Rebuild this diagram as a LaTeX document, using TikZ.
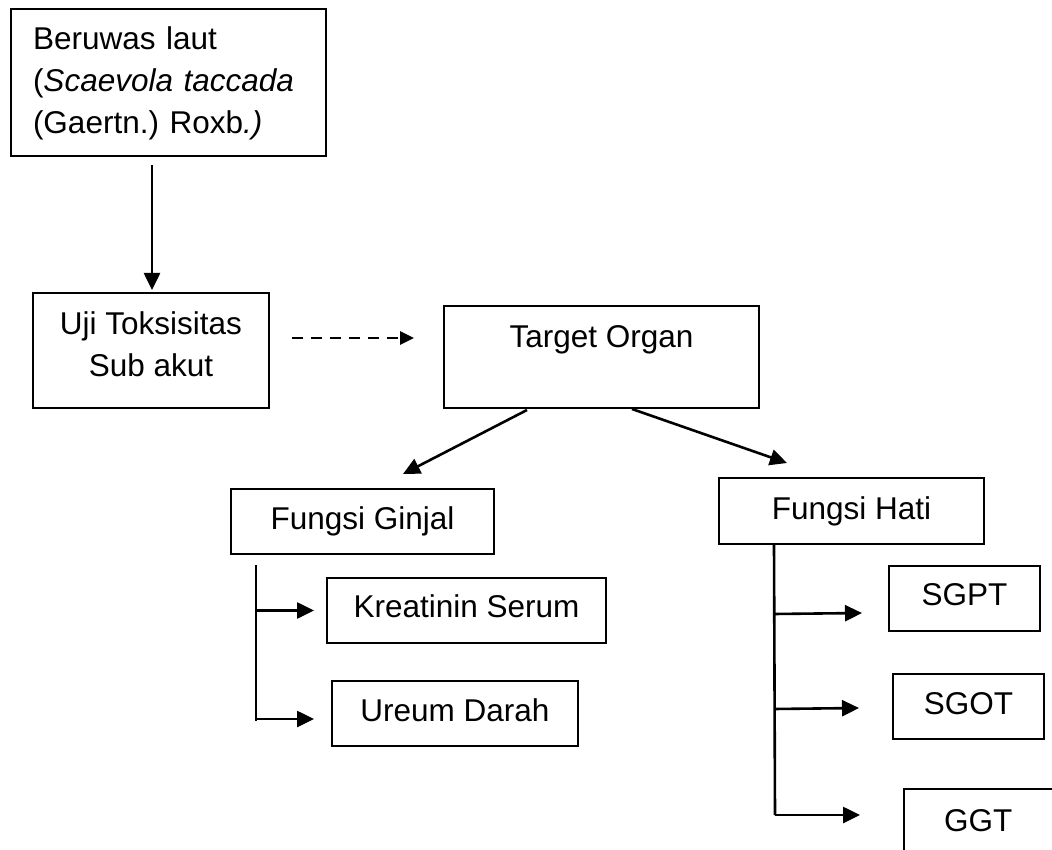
\documentclass[tikz,border=0pt]{standalone}
\usepackage{fontspec}
\setmainfont{Liberation Sans}
\usetikzlibrary{arrows.meta,calc}
\frenchspacing

\tikzset{
  box/.style={draw, line width=2pt, inner sep=0pt, font=\fontsize{31.5}{42}\selectfont},
  arr/.style={line width=2.6pt, -{Triangle[length=17pt,width=16pt]}},
  dasharr/.style={line width=2.6pt, dash pattern=on 11pt off 8pt, -{Triangle[length=14pt,width=13pt]}},
  trunk/.style={line width=2.6pt},
}

\begin{document}
\begin{tikzpicture}[x=1pt,y=-1pt]
		\useasboundingbox (0,0) rectangle (1052,850);
		\clip (0,0) rectangle (1052,850);
		
		\node[box, anchor=north west, align=left, text width=271pt, inner xsep=22pt, text height=41pt, text depth=106pt] (beruwas) at (10,8) {Beruwas laut\\(\textit{Scaevola taccada}\\(Gaertn.) Roxb\textit{.)}};
		\node[box, anchor=north, align=center, minimum width=236pt, text height=83pt, text depth=32pt] (uji) at (151,292) {Uji Toksisitas\\Sub akut};
		\node[box, anchor=north, minimum width=315pt, text height=41pt, text depth=61pt] (target) at (601.5,305) {Target Organ};
		
		\node[box, anchor=north, minimum width=263pt, text height=40pt, text depth=25pt] (ginjal) at (362.5,488) {Fungsi Ginjal};
		\node[box, anchor=north, minimum width=279pt, text height=39pt, text depth=26pt] (kreatinin) at (466.5,577) {Kreatinin Serum};
		\node[box, anchor=north, minimum width=246pt, text height=40pt, text depth=25pt] (ureum) at (455,680) {Ureum Darah};
		
		\node[box, anchor=north, minimum width=265pt, text height=41pt, text depth=25pt] (hati) at (851.5,477) {Fungsi Hati};
		\node[box, anchor=north, minimum width=151pt, text height=39pt, text depth=26pt] (sgpt) at (964.5,565) {SGPT};
		\node[box, anchor=north, minimum width=151pt, text height=40pt, text depth=25pt] (sgot) at (968.5,673) {SGOT};
		\node[box, anchor=north west, align=left, text width=150pt, inner xsep=40pt, text height=42pt, text depth=40pt] (ggt) at (903,788) {GGT};
		
		\draw[arr] ($(uji.north |- beruwas.south)+(1,8)$) -- ($(uji.north)+(1,-2)$);
		\draw[dasharr] ($(uji.east)+(22,-12.5)$) -- ($(target.west)+(-29,-19)$);
		\draw[arr] ($(target.south)+(-74.5,1)$) -- ($(ginjal.north)+(40.5,-14)$);
		\draw[arr] ($(target.south)+(30.5,0)$) -- ($(hati.north)+(-64.5,-14)$);
		
		\coordinate (gtop) at ($(ginjal.south west)+(26,10)$);
		\coordinate (gbot) at ($(ureum.west)+(-75,5.5)$);
		\draw[trunk] (gtop) -- ($(gbot)+(0,2)$);
		\draw[arr] (gtop |- kreatinin.west) -- ($(kreatinin.west)+(-12,0)$);
		\draw[arr] (gbot) -- ($(ureum.west)+(-17,5.5)$);
		
		\coordinate (htop) at ($(hati.south west)+(56,0)$);
		\coordinate (hbot) at ($(ggt.north west)+(-128,27)$);
		\draw[trunk] (htop) -- (hbot);
		\draw[arr] ($(htop)+(0,69)$) -- ($(sgpt.west)+(-26,14.5)$);
		\draw[arr] ($(htop)+(0,164)$) -- ($(sgot.west)+(-33,1.5)$);
		\draw[arr] (hbot) -- ($(ggt.north west)+(-43,27)$);
\end{tikzpicture}
\end{document}
